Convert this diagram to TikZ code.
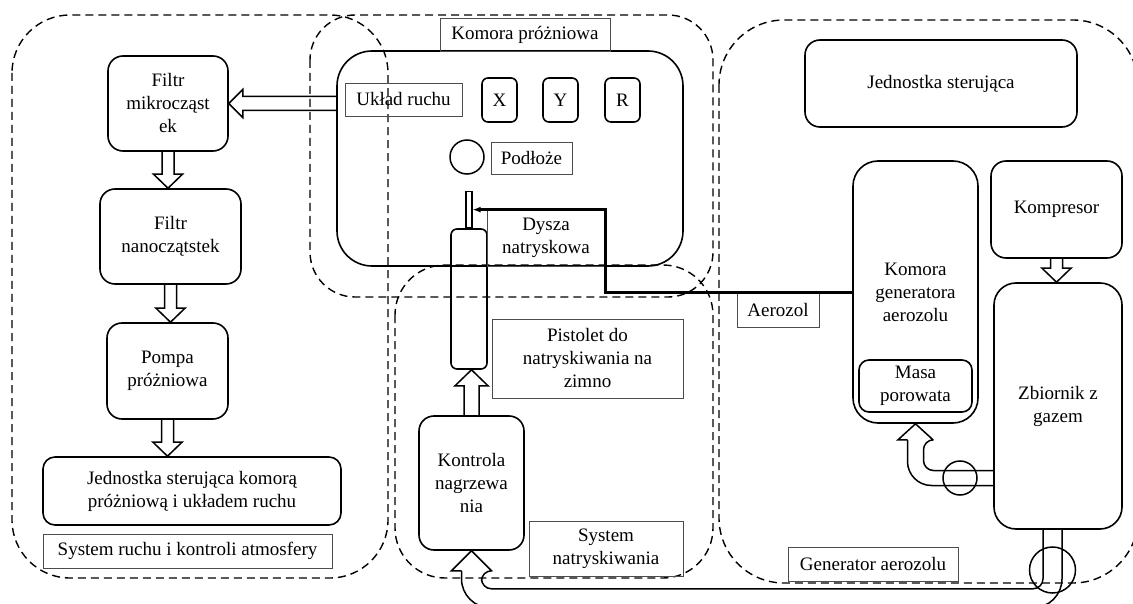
\documentclass[tikz,border=0pt]{standalone}
\usepackage{fontspec}
\setmainfont{Liberation Serif}
\usetikzlibrary{arrows.meta, calc, positioning}

\tikzset{
  box/.style={draw, line width=1.6pt, rounded corners=#1, align=center, inner sep=2pt},
  box/.default=15pt,
  tag/.style={draw=black!70, line width=0.9pt, align=center, inner sep=2pt},
  zone/.style={line width=1.4pt, dash pattern=on 8pt off 5pt, rounded corners=#1},
  pipe/.style={line width=1.5pt},
  valve/.style={draw, circle, line width=1.5pt, inner sep=0pt, minimum size=#1},
}

% hollow arrow from the bottom of one box to the top of the next
\newcommand{\flowdown}[2]{%
  \draw[pipe] ($(#1.south)+(-6,0)$) -- ($(#1.south |- #2.north)+(-6,-14)$) -- ++(-8.5,0)
    -- (#1.south |- #2.north) -- ++(14.5,-14) -- ++(-8.5,0) -- ($(#1.south)+(6,0)$);}

\begin{document}
\begin{tikzpicture}[x=1pt, y=-1pt, font=\fontsize{19}{23}\selectfont]
\useasboundingbox (0,0) rectangle (1133,604);
\begin{scope}
\clip (0,0) rectangle (1133,604);

% Zones
\draw[zone=58pt] (12,15) rectangle (388,578);
\draw[zone=45pt] (310,15) rectangle (713,297);
\draw[zone=50pt] (395,265) rectangle (713,578);
\draw[zone=65pt] (719,20) rectangle (1138,583);

% Motion and atmosphere system
\node[box, minimum width=120pt, minimum height=95pt] (fmicro) at (168,103.5) {Filtr\\mikrocząst\\ek};
\node[box, minimum width=141pt, minimum height=95pt] (fnano) at (170.5,236.5) {Filtr\\nanoczątstek};
\node[box, minimum width=121pt, minimum height=96pt] (pump) at (167.5,371) {Pompa\\próżniowa};
\node[box=12pt, minimum width=298pt, minimum height=68pt] (vcu) at (192,491) {Jednostka sterująca komorą\\próżniową i układem ruchu};
\node[tag, minimum width=289pt, minimum height=34pt] (motiontag) at (187.5,551) {System ruchu i kontroli atmosfery};

\flowdown{fmicro}{fnano}
\flowdown{fnano}{pump}
\flowdown{pump}{vcu}

% Vacuum chamber
\node[box=35pt, minimum width=346pt, minimum height=215pt] (chamber) at (510,158.5) {};
\node[tag, minimum width=170pt, minimum height=33pt] (chambertag) at (525,34.5) {Komora próżniowa};
\node[tag, minimum width=117pt, minimum height=33pt] (motion) at (403.5,99.5) {Układ ruchu};
\foreach \n/\x in {X/499.5, Y/560.5, R/622.5}
  \node[box=6pt, minimum width=35pt, minimum height=44pt] (axis\n) at (\x,100) {\n};
\node[valve=34pt] (subst) at (467,157) {};
\node[tag, minimum width=81pt, minimum height=32pt] (substtag) at (531.5,158) {Podłoże};

\draw[pipe] ($(chamber.west |- fmicro.east)+(0,-7)$) -- ($(fmicro.east)+(14,-7)$) -- ++(0,-7)
  -- (fmicro.east) -- ++(14,14) -- ++(0,-7) -- ($(chamber.west |- fmicro.east)+(0,7)$);

% Spraying system
\node[box=6pt, minimum width=36pt, minimum height=140pt] (gun) at (469,299) {};
\node[draw, line width=1.1pt, minimum width=6pt, minimum height=36pt, inner sep=0pt, anchor=south] (nozzle) at (gun.north) {};
\node[tag, minimum width=118pt, minimum height=56pt] (nozzletag) at (546,238) {Dysza\\natryskowa};
\node[tag, minimum width=191pt, minimum height=79pt] (guntag) at (587.5,358.5) {Pistolet do\\natryskiwania na\\zimno};
\node[box, minimum width=105pt, minimum height=134pt] (heat) at (471.5,483) {Kontrola\\nagrzewa\\nia};
\node[tag, minimum width=154pt, minimum height=55pt] (spraytag) at (606,548.5) {System\\natryskiwania};

\draw[pipe] ($(heat.north)+(-7.5,0)$) -- ($(heat.north |- gun.south)+(-7.5,16)$) -- ++(-9,0)
  -- (heat.north |- gun.south) -- ++(16.5,16) -- ++(-9,0) -- ($(heat.north)+(7.5,0)$);

% Aerosol generator
\node[box, minimum width=272pt, minimum height=87pt] (ctrl) at (941,83.5) {Jednostka sterująca};
\node[box=25pt, minimum width=125pt, minimum height=262pt] (genchamber) at (915.5,292) {Komora\\generatora\\aerozolu};
\node[box=10pt, minimum width=113pt, minimum height=52pt] (porous) at (915.5,386) {Masa\\porowata};
\node[box, minimum width=131pt, minimum height=97pt] (comp) at (1056.5,209.5) {Kompresor};
\node[box=22pt, minimum width=128pt, minimum height=246pt] (tank) at (1058,406) {Zbiornik z\\gazem};
\node[tag, minimum width=82pt, minimum height=34pt] (aerotag) at (778,310) {Aerozol};
\node[tag, minimum width=170pt, minimum height=34pt] (gentag) at (873,564) {Generator aerozolu};
\node[valve=34pt] (valveA) at (960,478) {};
\node[valve=46pt] (valveB) at (1052.5,570) {};

\flowdown{comp}{tank}

% aerosol feed to the nozzle
\draw[line width=2.6pt, -{Latex[length=8pt, width=6pt]}] (genchamber.west |- aerotag.north)
  -| (nozzletag.north east |- nozzle.east) -- (nozzle.east);

% gas from the tank to the generator chamber
\draw[pipe] ($(tank.west |- valveA.center)+(0,-7.5)$) [rounded corners=10pt] -| ($(genchamber.south)+(8,16)$)
  [sharp corners] -- ++(9.5,0) -- (genchamber.south) -- ++(-17.5,16) -- ++(9.5,0);
\draw[pipe] ($(genchamber.south)+(-8,16)$) [rounded corners=24pt] |- ($(tank.west |- valveA.center)+(0,7.5)$);

% gas from the tank to the heating control
\draw[pipe] ($(tank.south -| valveB.center)+(-9.5,0)$) [rounded corners=10pt] |- ($(heat.south)+(10,38)$)
  -- ++(0,-18) [sharp corners] -- ++(10,0) -- (heat.south) -- ++(-20,20) -- ++(10,0);
\draw[pipe] ($(heat.south)+(-10,20)$) [rounded corners=29pt] |- ($(tank.south -| valveB.center)+(9.5,78)$)
  -- ($(tank.south -| valveB.center)+(9.5,0)$);
\end{scope}
\end{tikzpicture}
\end{document}
